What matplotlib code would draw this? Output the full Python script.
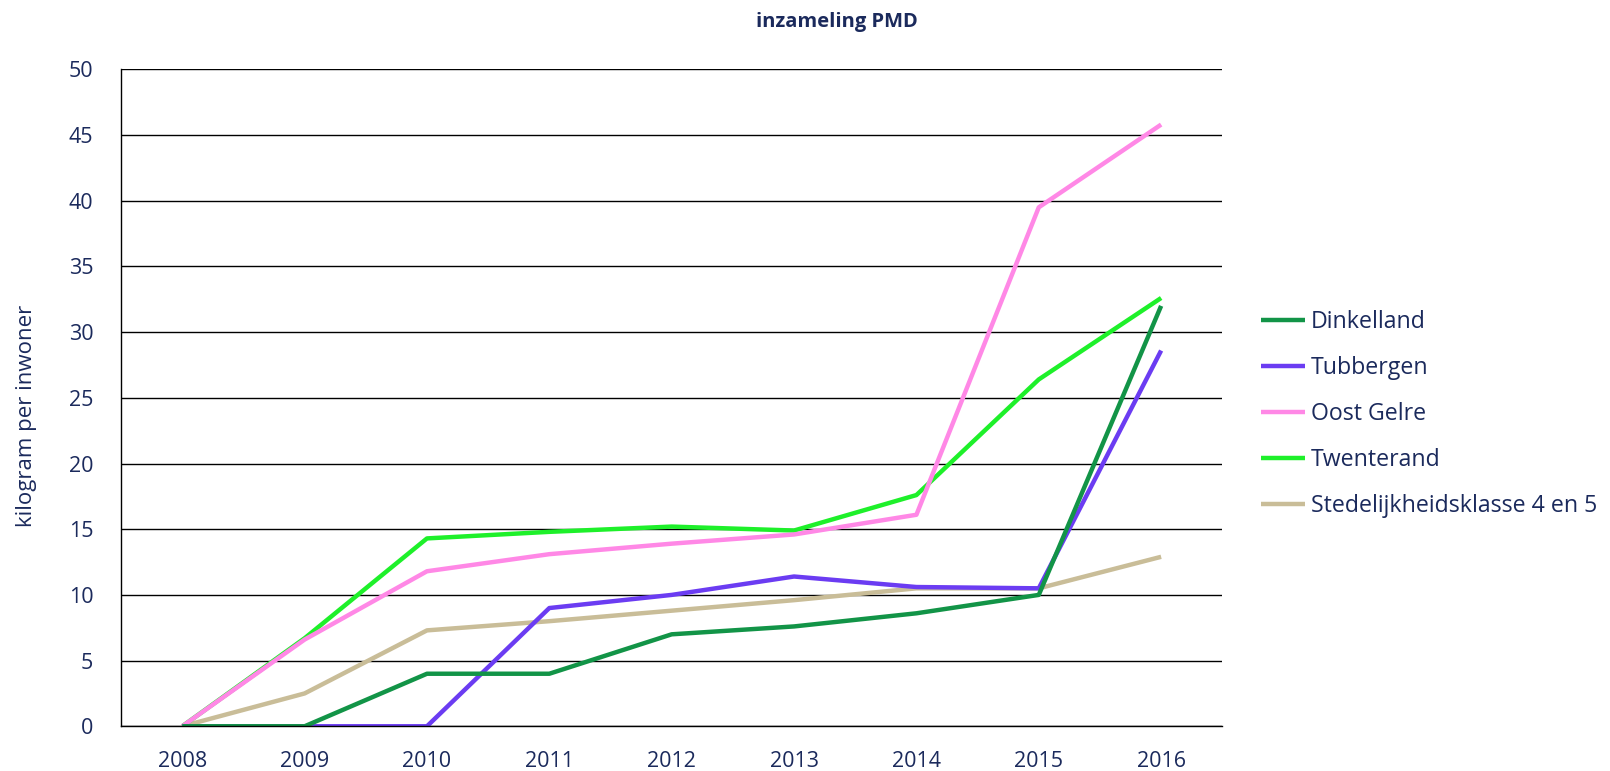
import matplotlib
matplotlib.use('Agg')
import matplotlib.pyplot as plt

# data (kg per inwoner)
years = ['2008', '2009', '2010', '2011', '2012', '2013', '2014', '2015', '2016']
dinkelland = [0, 0, 4.0, 4.0, 7.0, 7.6, 8.6, 10.0, 32.0]
tubbergen = [0, 0, 0, 9.0, 10.0, 11.4, 10.6, 10.5, 28.6]
oost_gelre = [0, 6.6, 11.8, 13.1, 13.9, 14.6, 16.1, 39.5, 45.8]
twenterand = [0, 6.7, 14.3, 14.8, 15.2, 14.9, 17.6, 26.4, 32.6]
stedelijk = [0, 2.5, 7.3, 8.0, 8.8, 9.6, 10.5, 10.5, 12.9]

names = ['Dinkelland', 'Tubbergen', 'Oost Gelre', 'Twenterand', 'Stedelijkheidsklasse 4 en 5']
colors = ['#129447', '#6b3cf2', '#ff88e6', '#1ef02a', '#c9bd98']
series = [dinkelland, tubbergen, oost_gelre, twenterand, stedelijk]

txt = '#1b2a5c'
plt.rcParams['font.family'] = ['Open Sans', 'DejaVu Sans']

fig = plt.figure(figsize=(16.1, 7.71), dpi=100)
ax = fig.add_axes([0.0752, 0.058, 0.684, 0.852])

x = list(range(len(years)))
# draw the background series first so the order matches the picture
order = [4, 3, 2, 1, 0]
for i in order:
    ax.plot(x, series[i], color=colors[i], lw=3.2, label=names[i], solid_capstyle='butt')

ax.set_xlim(-0.5, len(years) - 0.5)
ax.set_ylim(0, 50)
ax.set_yticks(range(0, 51, 5))
ax.set_xticks(x)
ax.set_xticklabels(years)
ax.tick_params(axis='both', length=0, labelsize=15.5, labelcolor=txt)
ax.tick_params(axis='y', pad=20)
ax.tick_params(axis='x', pad=18)
ax.yaxis.grid(True, color='black', lw=1)
ax.set_axisbelow(True)
for s in ['top', 'right']:
    ax.spines[s].set_visible(False)
ax.spines['left'].set_color('black')
ax.spines['bottom'].set_color('black')
ax.spines['left'].set_linewidth(1)
ax.spines['bottom'].set_linewidth(1)

ax.set_ylabel('kilogram per inwoner', fontsize=16, color=txt)
ax.yaxis.set_label_coords(-0.076, 0.472)
fig.suptitle('inzameling PMD', x=0.52, y=0.985, fontsize=14.5, fontweight='bold', color=txt)

handles, labels = ax.get_legend_handles_labels()
hmap = dict(zip(labels, handles))
leg = ax.legend([hmap[n] for n in names], names, loc='center left',
                bbox_to_anchor=(1.035, 0.475), frameon=False, fontsize=16.7,
                borderaxespad=0, borderpad=0,
                handlelength=1.9, handletextpad=0.25, labelspacing=0.95)
for t in leg.get_texts():
    t.set_color(txt)

fig.savefig('out.png', dpi=100)
